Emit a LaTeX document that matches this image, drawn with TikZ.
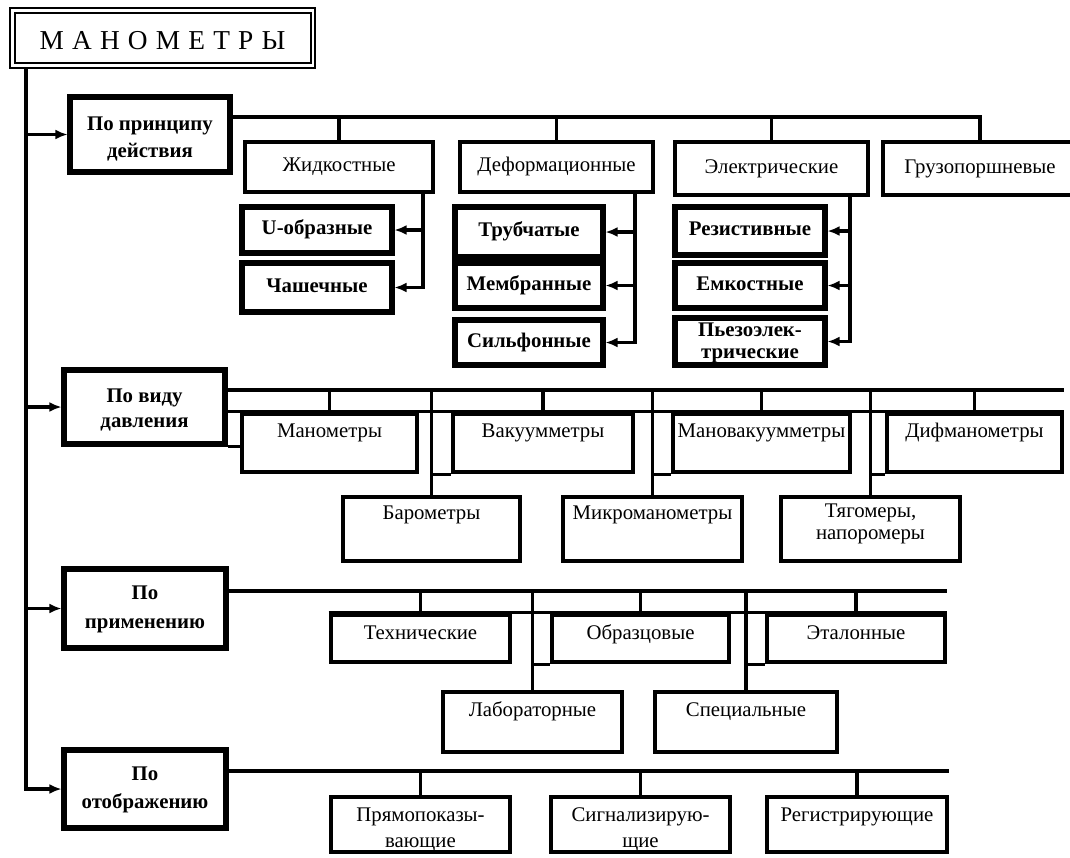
\documentclass[tikz,border=0pt]{standalone}
\usepackage{fontspec}
\setmainfont{Liberation Serif}
\newfontfamily\titlefont[LetterSpace=30]{Liberation Serif}
\usetikzlibrary{arrows.meta}
\newcommand\bx[9]{%
  \pgfmathsetmacro\bxw{(#5-#3)*0.75}%
  \pgfmathsetmacro\bxh{(#6-#4)*0.75}%
  \pgfmathsetmacro\bxr{#7*0.75}%
  \node[#1, minimum width=\bxw pt, minimum height=\bxh pt] (#2) at ({(#3+#5)/2},{(#4+#6)/2})
    {\raisebox{\bxr pt}[\height][\depth]{\fontsize{15.6}{#8}\selectfont\begin{tabular}{@{}c@{}}#9\end{tabular}}};}
\tikzset{
  lin/.style={line width=2.6pt},
  arr/.style={line width=2.3pt, -{Latex[length=9pt,width=7.5pt]}},
  rbox/.style={draw, line width=3.4pt, inner sep=0pt, font=\fontsize{15.6}{18}\selectfont},
  bbox/.style={draw, line width=3.8pt, inner sep=0pt, font=\bfseries\fontsize{15.6}{18}\selectfont},
  catbox/.style={bbox},
}
\begin{document}
\begin{tikzpicture}[x=0.75pt, y=-0.75pt]
\path[fill=white] (0,0) rectangle (1070,857);
\useasboundingbox (0,0) rectangle (1070,857);
\clip (0,0) rectangle (1070,857);

% title
\node[draw, line width=2.2pt, inner sep=0pt, outer sep=0pt, minimum width=228.75pt, minimum height=45pt] (title) at (162.5,38)
  {\raisebox{-2pt}[\height][\depth]{\titlefont\fontsize{20.5}{24}\selectfont МАНОМЕТРЫ}};
\draw[line width=1.1pt] ([shift={(5,5)}]title.north west) rectangle ([shift={(-4,-5)}]title.south east);
\coordinate (tk) at ([shift={(16,0)}]title.south west);

% categories
\bx{catbox}{catA}{70}{97}{230}{172}{-4}{20}{По принципу\\действия}
\bx{catbox}{catB}{64}{370}{225}{444}{-3}{19}{По виду\\давления}
\bx{catbox}{catC}{64}{569}{226}{648}{0}{21.5}{По\\применению}
\bx{catbox}{catD}{64}{750}{226}{828}{0}{21}{По\\отображению}

\draw[arr] (tk) |- (catD.west);
\foreach \c in {catA,catB,catC} \draw[arr] (tk |- \c.west) -- (\c.west);

% section 1
\bx{rbox}{zh}{245}{142}{433}{192}{0}{18}{Жидкостные}
\bx{rbox}{def}{460}{142}{653}{192}{0}{18}{Деформационные}
\bx{rbox}{el}{675}{142}{868}{195}{0}{18}{Электрические}
\bx{rbox}{gr}{883}{142}{1077}{195}{0}{18}{Грузопоршневые}

\bx{bbox}{u}{242}{207}{392}{253}{0}{18}{U-образные}
\bx{bbox}{ch}{242}{263}{392}{312}{0}{18}{Чашечные}
\bx{bbox}{tr}{455}{207}{603}{257}{0}{18}{Трубчатые}
\bx{bbox}{mem}{455}{263}{603}{308}{0}{18}{Мембранные}
\bx{bbox}{sil}{455}{320}{603}{365}{0}{18}{Сильфонные}
\bx{bbox}{rez}{675}{207}{825}{255}{0}{18}{Резистивные}
\bx{bbox}{emk}{675}{263}{825}{308}{0}{18}{Емкостные}
\bx{bbox}{pz}{675}{318}{825}{365}{-2}{16.5}{Пьезоэлек-\\трические}

\coordinate (bA) at (230,117);
\draw[lin] (catA.east |- bA) -| (gr.north);
\foreach \n in {zh,def,el} \draw[lin] (bA -| \n.north) -- (\n.north);

\coordinate (vz) at (423,192);
\draw[arr] (vz) |- (ch.east);
\draw[arr] (vz |- u.east) -- (u.east);
\coordinate (vd) at (635,192);
\draw[arr] (vd) |- (sil.east);
\foreach \n in {tr,mem} \draw[arr] (vd |- \n.east) -- (\n.east);
\coordinate (ve) at (850,195);
\draw[arr] (ve) |- (pz.east);
\foreach \n in {rez,emk} \draw[arr] (ve |- \n.east) -- (\n.east);

% section 2
\bx{rbox}{man}{242}{414}{417}{472}{10}{18}{Манометры}
\bx{rbox}{vak}{453}{414}{633}{472}{10}{18}{Вакуумметры}
\bx{rbox}{mv}{673}{414}{850}{472}{10}{18}{Мановакуумметры}
\bx{rbox}{dif}{887}{414}{1062}{472}{10}{18}{Дифманометры}
\bx{rbox}{bar}{343}{497}{520}{561}{14}{18}{Барометры}
\bx{rbox}{mik}{563}{497}{742}{561}{14}{18}{Микроманометры}
\bx{rbox}{tyag}{781}{497}{960}{561}{5}{16.5}{Тягомеры,\\напоромеры}

\coordinate (bB) at (225,390);
\draw[lin] (catB.east |- bB) -- (bB -| dif.east);
\draw[lin] (catB.east |- man.north) -- (dif.north east);
\draw[lin] (catB.south east) -- (catB.south east -| man.west);
\foreach \n in {man,vak,mv,dif,bar,mik,tyag} \draw[lin] (bB -| \n.north) -- (\n.north);
\draw[lin] (vak.south west) -- (vak.south west -| bar.north);
\draw[lin] (mv.south west) -- (mv.south west -| mik.north);
\draw[lin] (dif.south west) -- (dif.south west -| tyag.north);

% section 3
\bx{rbox}{tech}{331}{615}{510}{662}{4}{18}{Технические}
\bx{rbox}{obr}{552}{615}{729}{662}{4}{18}{Образцовые}
\bx{rbox}{et}{767}{615}{945}{662}{4}{18}{Эталонные}
\bx{rbox}{lab}{443}{692}{622}{752}{10}{18}{Лабораторные}
\bx{rbox}{spec}{655}{692}{837}{752}{10}{18}{Специальные}

\coordinate (bC) at (226,591);
\draw[lin] (catC.east |- bC) -- (bC -| et.east);
\draw[lin] (tech.north west) -- (et.north east);
\foreach \n in {tech,obr,et,lab,spec} \draw[lin] (bC -| \n.north) -- (\n.north);
\draw[lin] (obr.south west) -- (obr.south west -| lab.north);
\draw[lin] (et.south west) -- (et.south west -| spec.north);

% section 4
\bx{rbox}{pr}{331}{797}{510}{852}{-5}{19.5}{Прямопоказы-\\вающие}
\bx{rbox}{sig}{551}{797}{730}{852}{-5}{19.5}{Сигнализирую-\\щие}
\bx{rbox}{reg}{767}{797}{947}{852}{8}{18}{Регистрирующие}

\coordinate (bD) at (226,771);
\draw[lin] (catD.east |- bD) -- (bD -| reg.east);
\foreach \n in {pr,sig,reg} \draw[lin] (bD -| \n.north) -- (\n.north);
\end{tikzpicture}
\end{document}
